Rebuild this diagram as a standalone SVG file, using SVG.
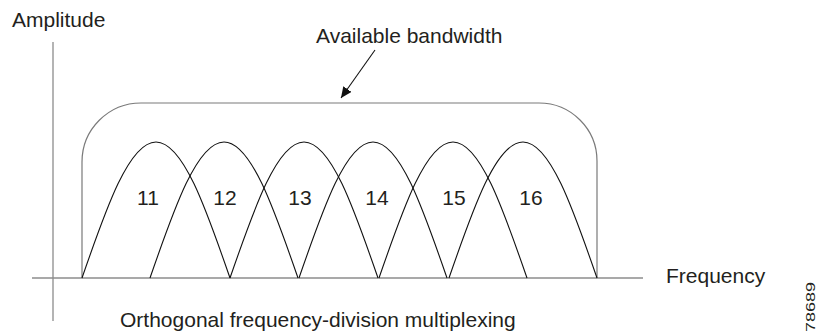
<svg xmlns="http://www.w3.org/2000/svg" width="817" height="333" viewBox="0 0 817 333">
<style>
text{font-family:"Liberation Sans",Arial,sans-serif;fill:#231f20}
.lbl{font-size:21px}
.num{font-size:21px;text-anchor:middle}
.axis{stroke:#8c8c8c;stroke-width:1.3;fill:none}
.band{stroke:#7a7a7a;stroke-width:1.2;fill:none}
.lobe{stroke:#111;stroke-width:1.1;fill:none}
.arrow{stroke:#111;stroke-width:1.1;fill:none}
</style>
<defs>
<path id="lobe" d="M0,0 C24.1,-69.7 47.2,-136 74,-136 C100.8,-136 123.9,-69.7 148,0"/>
<marker id="ah" markerWidth="12" markerHeight="10" refX="11" refY="5" orient="auto" markerUnits="userSpaceOnUse">
<path d="M0,0 L11,5 L0,10 Z" fill="#111"/>
</marker>
</defs>
<g id="axes">
<line class="axis" x1="53" y1="42" x2="53" y2="321"/>
<line class="axis" x1="32" y1="278" x2="643" y2="278"/>
</g>
<g id="bandwidth">
<path class="band" d="M82,278 V162 A59,59 0 0 1 141,103 H539 A58,58 0 0 1 597,161 V278"/>
</g>
<g id="subcarriers" class="lobe">
<use href="#lobe" transform="translate(82,278)"/>
<use href="#lobe" transform="translate(150,278)"/>
<use href="#lobe" transform="translate(230,278)"/>
<use href="#lobe" transform="translate(299,278)"/>
<use href="#lobe" transform="translate(379,278)"/>
<use href="#lobe" transform="translate(449,278)"/>
</g>
<g id="connectors">
<line class="arrow" x1="375" y1="50" x2="341" y2="98" marker-end="url(#ah)"/>
</g>
<g id="labels">
<text class="lbl" x="12" y="27">Amplitude</text>
<text class="lbl" x="316" y="43">Available bandwidth</text>
<text class="lbl" x="666" y="283">Frequency</text>
<text class="lbl" x="120" y="327">Orthogonal frequency-division multiplexing</text>
<text class="num" x="148" y="205">11</text>
<text class="num" x="225" y="205">12</text>
<text class="num" x="300" y="205">13</text>
<text class="num" x="377" y="205">14</text>
<text class="num" x="454" y="205">15</text>
<text class="num" x="531" y="205">16</text>
<text transform="translate(815,332) rotate(-90)" font-size="13" textLength="50" lengthAdjust="spacingAndGlyphs">78689</text>
</g>
</svg>
